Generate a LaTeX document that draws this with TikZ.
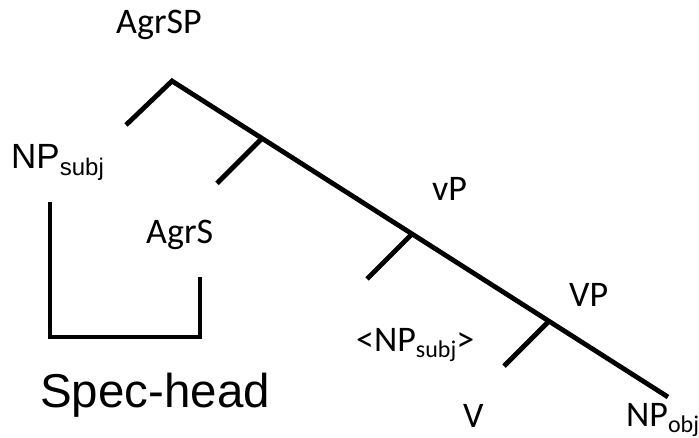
\documentclass[tikz,border=0pt]{standalone}
\usepackage{fontspec}
\setmainfont{Carlito}
\newfontfamily\arialf{Liberation Sans}
\usetikzlibrary{calc}
\tikzset{
  tree/.style={line width=4.8pt, line cap=butt, line join=miter},
  lab/.style={anchor=base west, inner sep=0pt, font=\fontsize{36}{40}\selectfont},
  biglab/.style={anchor=base west, inner sep=0pt, font=\arialf\fontsize{35}{40}\selectfont},
}
\newcommand{\subc}[2]{\raisebox{#1}{\fontsize{24}{26}\selectfont #2}}
\newcommand{\suba}[2]{\raisebox{#1}{\fontsize{24}{26}\selectfont #2}}
\begin{document}
\begin{tikzpicture}[x=1pt,y=-1pt]
\useasboundingbox (0,0) rectangle (699,437);
% labels
\node[lab] (agrsp) at (116,33) {AgrSP};
\node[biglab] (npsubj) at (11,168) {NP\suba{-7pt}{subj}};
\node[lab] (agrs) at (146,243) {AgrS};
\node[lab] (vp) at (432,200) {vP};
\node[lab] (VP) at (569,306) {VP};
\node[lab] (npsubjt) at (356,351) {<NP\subc{-6pt}{subj}>};
\node[lab] (v) at (463,427) {V};
\node[lab] (npobj) at (626,426) {NP\subc{-6pt}{obj}};
\node[anchor=base west, inner sep=0pt, font=\arialf\fontsize{47.5}{52}\selectfont] (spec) at (40,407) {Spec-head};
% tree
\coordinate (apex) at (172,81);
\coordinate (end) at (668,397);
\coordinate (specend) at (126,125);
\coordinate (b1) at ($(apex)!0.1815!(end)$);
\coordinate (b2) at ($(apex)!0.484!(end)$);
\coordinate (b3) at ($(apex)!0.760!(end)$);
\coordinate (e1) at ($(b1)+(-45,45)$);
\coordinate (e2) at ($(b2)+(-45,45)$);
\coordinate (e3) at ($(b3)+(-45,45)$);
\draw[tree] (specend) -- (apex) -- (end);
\draw[tree] (b1) -- (e1);
\draw[tree] (b2) -- (e2);
\draw[tree] (b3) -- (e3);
% spec-head bracket
\coordinate (bl) at (50,202);
\coordinate (bc1) at (50,337);
\coordinate (bc2) at (200,337);
\coordinate (br) at (200,277);
\draw[tree] (bl) -- (bc1) -- (bc2) -- (br);
\end{tikzpicture}
\end{document}
